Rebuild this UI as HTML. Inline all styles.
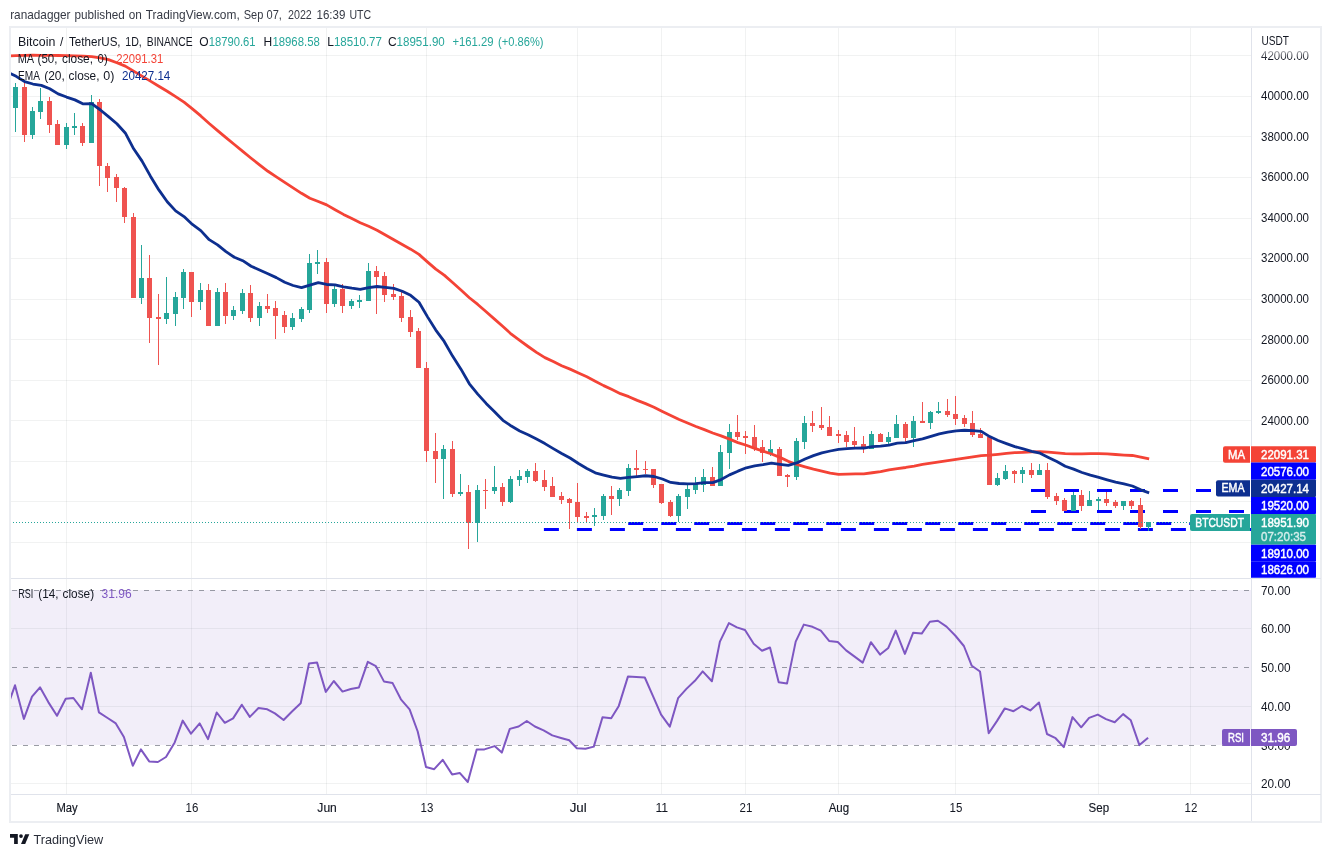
<!DOCTYPE html>
<html><head><meta charset="utf-8"><title>BTCUSDT chart</title>
<style>html,body{margin:0;padding:0;background:#fff;width:1331px;height:857px;overflow:hidden}svg{display:block;will-change:transform}</style>
</head><body>
<svg width="1331" height="857" viewBox="0 0 1331 857" font-family='"Liberation Sans", sans-serif'>
<rect x="0" y="0" width="1331" height="857" fill="#ffffff"/>
<text x="10.2" y="18.9" font-size="13" fill="#363a45" text-anchor="start" font-weight="normal" textLength="60.3" lengthAdjust="spacingAndGlyphs">ranadagger</text>
<text x="74.5" y="18.9" font-size="13" fill="#363a45" text-anchor="start" font-weight="normal" textLength="50.2" lengthAdjust="spacingAndGlyphs">published</text>
<text x="128.7" y="18.9" font-size="13" fill="#363a45" text-anchor="start" font-weight="normal" textLength="13.1" lengthAdjust="spacingAndGlyphs">on</text>
<text x="145.8" y="18.9" font-size="13" fill="#363a45" text-anchor="start" font-weight="normal" textLength="93.9" lengthAdjust="spacingAndGlyphs">TradingView.com,</text>
<text x="243.7" y="18.9" font-size="13" fill="#363a45" text-anchor="start" font-weight="normal" textLength="19.6" lengthAdjust="spacingAndGlyphs">Sep</text>
<text x="266.6" y="18.9" font-size="13" fill="#363a45" text-anchor="start" font-weight="normal" textLength="15.3" lengthAdjust="spacingAndGlyphs">07,</text>
<text x="288" y="18.9" font-size="13" fill="#363a45" text-anchor="start" font-weight="normal" textLength="23.8" lengthAdjust="spacingAndGlyphs">2022</text>
<text x="316.5" y="18.9" font-size="13" fill="#363a45" text-anchor="start" font-weight="normal" textLength="28.9" lengthAdjust="spacingAndGlyphs">16:39</text>
<text x="349.4" y="18.9" font-size="13" fill="#363a45" text-anchor="start" font-weight="normal" textLength="21.7" lengthAdjust="spacingAndGlyphs">UTC</text>
<rect x="10" y="27" width="1311" height="795" fill="none" stroke="#eceef2" stroke-width="2"/>
<line x1="66.5" y1="28" x2="66.5" y2="794" stroke="#0f2626" stroke-opacity="0.06" stroke-width="1"/>
<line x1="191.5" y1="28" x2="191.5" y2="794" stroke="#0f2626" stroke-opacity="0.06" stroke-width="1"/>
<line x1="326.5" y1="28" x2="326.5" y2="794" stroke="#0f2626" stroke-opacity="0.06" stroke-width="1"/>
<line x1="426.5" y1="28" x2="426.5" y2="794" stroke="#0f2626" stroke-opacity="0.06" stroke-width="1"/>
<line x1="577.5" y1="28" x2="577.5" y2="794" stroke="#0f2626" stroke-opacity="0.06" stroke-width="1"/>
<line x1="661.5" y1="28" x2="661.5" y2="794" stroke="#0f2626" stroke-opacity="0.06" stroke-width="1"/>
<line x1="745.5" y1="28" x2="745.5" y2="794" stroke="#0f2626" stroke-opacity="0.06" stroke-width="1"/>
<line x1="838.5" y1="28" x2="838.5" y2="794" stroke="#0f2626" stroke-opacity="0.06" stroke-width="1"/>
<line x1="955.5" y1="28" x2="955.5" y2="794" stroke="#0f2626" stroke-opacity="0.06" stroke-width="1"/>
<line x1="1098.5" y1="28" x2="1098.5" y2="794" stroke="#0f2626" stroke-opacity="0.06" stroke-width="1"/>
<line x1="1190.5" y1="28" x2="1190.5" y2="794" stroke="#0f2626" stroke-opacity="0.06" stroke-width="1"/>
<line x1="11" y1="55.5" x2="1251" y2="55.5" stroke="#0f2626" stroke-opacity="0.06" stroke-width="1"/>
<line x1="11" y1="96.5" x2="1251" y2="96.5" stroke="#0f2626" stroke-opacity="0.06" stroke-width="1"/>
<line x1="11" y1="136.5" x2="1251" y2="136.5" stroke="#0f2626" stroke-opacity="0.06" stroke-width="1"/>
<line x1="11" y1="177.5" x2="1251" y2="177.5" stroke="#0f2626" stroke-opacity="0.06" stroke-width="1"/>
<line x1="11" y1="218.5" x2="1251" y2="218.5" stroke="#0f2626" stroke-opacity="0.06" stroke-width="1"/>
<line x1="11" y1="258.5" x2="1251" y2="258.5" stroke="#0f2626" stroke-opacity="0.06" stroke-width="1"/>
<line x1="11" y1="299.5" x2="1251" y2="299.5" stroke="#0f2626" stroke-opacity="0.06" stroke-width="1"/>
<line x1="11" y1="339.5" x2="1251" y2="339.5" stroke="#0f2626" stroke-opacity="0.06" stroke-width="1"/>
<line x1="11" y1="380.5" x2="1251" y2="380.5" stroke="#0f2626" stroke-opacity="0.06" stroke-width="1"/>
<line x1="11" y1="420.5" x2="1251" y2="420.5" stroke="#0f2626" stroke-opacity="0.06" stroke-width="1"/>
<line x1="11" y1="461.5" x2="1251" y2="461.5" stroke="#0f2626" stroke-opacity="0.06" stroke-width="1"/>
<line x1="11" y1="501.5" x2="1251" y2="501.5" stroke="#0f2626" stroke-opacity="0.06" stroke-width="1"/>
<line x1="11" y1="542.5" x2="1251" y2="542.5" stroke="#0f2626" stroke-opacity="0.06" stroke-width="1"/>
<rect x="11" y="590" width="1240" height="155" fill="#7e57c2" fill-opacity="0.1"/>
<line x1="11" y1="628.5" x2="1251" y2="628.5" stroke="#0f2626" stroke-opacity="0.06" stroke-width="1"/>
<line x1="11" y1="706.5" x2="1251" y2="706.5" stroke="#0f2626" stroke-opacity="0.06" stroke-width="1"/>
<line x1="11" y1="783.5" x2="1251" y2="783.5" stroke="#0f2626" stroke-opacity="0.06" stroke-width="1"/>
<line x1="12" y1="590.5" x2="1251" y2="590.5" stroke="#787b86" stroke-width="1" stroke-dasharray="5 6" stroke-opacity="0.75"/>
<line x1="12" y1="667.5" x2="1251" y2="667.5" stroke="#787b86" stroke-width="1" stroke-dasharray="5 6" stroke-opacity="0.75"/>
<line x1="12" y1="745.5" x2="1251" y2="745.5" stroke="#787b86" stroke-width="1" stroke-dasharray="5 6" stroke-opacity="0.75"/>
<rect x="11" y="578" width="1310" height="1" fill="#e0e3eb"/>
<rect x="11" y="794" width="1310" height="1" fill="#e0e3eb"/>
<rect x="1251" y="28" width="1" height="793" fill="#e0e3eb"/>
<line x1="1031" y1="490.5" x2="1251" y2="490.5" stroke="#0000ff" stroke-width="3" stroke-dasharray="15 18"/>
<line x1="1031" y1="511.5" x2="1251" y2="511.5" stroke="#0000ff" stroke-width="3" stroke-dasharray="15 18"/>
<line x1="628.2" y1="523.5" x2="1251" y2="523.5" stroke="#0000ff" stroke-width="3" stroke-dasharray="15 18"/>
<line x1="543.9" y1="529.5" x2="1251" y2="529.5" stroke="#0000ff" stroke-width="3" stroke-dasharray="15 18"/>
<g shape-rendering="crispEdges">
<rect x="15" y="83.3" width="1" height="48.6" fill="#26a69a"/>
<rect x="13" y="87" width="5" height="20.6" fill="#26a69a"/>
<rect x="24" y="80.6" width="1" height="61" fill="#ef5350"/>
<rect x="22" y="87" width="5" height="47.8" fill="#ef5350"/>
<rect x="32" y="106.9" width="1" height="31.8" fill="#26a69a"/>
<rect x="30" y="111" width="5" height="23.8" fill="#26a69a"/>
<rect x="40" y="87.9" width="1" height="30.9" fill="#26a69a"/>
<rect x="38" y="101.1" width="5" height="10.6" fill="#26a69a"/>
<rect x="49" y="97" width="1" height="35.7" fill="#ef5350"/>
<rect x="47" y="101.1" width="5" height="23.5" fill="#ef5350"/>
<rect x="57" y="120" width="1" height="24.8" fill="#ef5350"/>
<rect x="55" y="123.9" width="5" height="20.9" fill="#ef5350"/>
<rect x="66" y="123.1" width="1" height="25.8" fill="#26a69a"/>
<rect x="64" y="126.9" width="5" height="17.9" fill="#26a69a"/>
<rect x="74" y="113.2" width="1" height="21.7" fill="#26a69a"/>
<rect x="72" y="126.1" width="5" height="1.9" fill="#26a69a"/>
<rect x="82" y="123.1" width="1" height="22.7" fill="#ef5350"/>
<rect x="80" y="126.1" width="5" height="16.7" fill="#ef5350"/>
<rect x="91" y="95" width="1" height="47.8" fill="#26a69a"/>
<rect x="89" y="102.2" width="5" height="40.6" fill="#26a69a"/>
<rect x="99" y="98.8" width="1" height="87.2" fill="#ef5350"/>
<rect x="97" y="102.2" width="5" height="64.2" fill="#ef5350"/>
<rect x="107" y="162.9" width="1" height="29" fill="#ef5350"/>
<rect x="105" y="166.1" width="5" height="11.5" fill="#ef5350"/>
<rect x="116" y="174.2" width="1" height="27.5" fill="#ef5350"/>
<rect x="114" y="177.2" width="5" height="11.2" fill="#ef5350"/>
<rect x="124" y="187" width="1" height="35.5" fill="#ef5350"/>
<rect x="122" y="188.2" width="5" height="29.2" fill="#ef5350"/>
<rect x="133" y="212.7" width="1" height="85" fill="#ef5350"/>
<rect x="131" y="217.1" width="5" height="80.6" fill="#ef5350"/>
<rect x="141" y="245" width="1" height="58.8" fill="#26a69a"/>
<rect x="139" y="278.1" width="5" height="19.6" fill="#26a69a"/>
<rect x="149" y="255.1" width="1" height="87.5" fill="#ef5350"/>
<rect x="147" y="278.1" width="5" height="39.5" fill="#ef5350"/>
<rect x="158" y="294" width="1" height="70.6" fill="#ef5350"/>
<rect x="156" y="316.8" width="5" height="2" fill="#ef5350"/>
<rect x="166" y="277.1" width="1" height="46.6" fill="#26a69a"/>
<rect x="164" y="313.1" width="5" height="5.7" fill="#26a69a"/>
<rect x="175" y="292.3" width="1" height="33.6" fill="#26a69a"/>
<rect x="173" y="297.2" width="5" height="16.7" fill="#26a69a"/>
<rect x="183" y="269" width="1" height="39.7" fill="#26a69a"/>
<rect x="181" y="272.2" width="5" height="25.5" fill="#26a69a"/>
<rect x="191" y="272.2" width="1" height="44.6" fill="#ef5350"/>
<rect x="189" y="272.2" width="5" height="29.4" fill="#ef5350"/>
<rect x="200" y="283" width="1" height="26.5" fill="#26a69a"/>
<rect x="198" y="289.9" width="5" height="11.7" fill="#26a69a"/>
<rect x="208" y="284.2" width="1" height="41.7" fill="#ef5350"/>
<rect x="206" y="289.9" width="5" height="36" fill="#ef5350"/>
<rect x="217" y="287.9" width="1" height="38" fill="#26a69a"/>
<rect x="215" y="292.3" width="5" height="33.6" fill="#26a69a"/>
<rect x="225" y="282.9" width="1" height="41" fill="#ef5350"/>
<rect x="223" y="292.1" width="5" height="23.6" fill="#ef5350"/>
<rect x="233" y="306.2" width="1" height="13.4" fill="#26a69a"/>
<rect x="231" y="310.1" width="5" height="5.6" fill="#26a69a"/>
<rect x="242" y="289" width="1" height="24.8" fill="#26a69a"/>
<rect x="240" y="293.1" width="5" height="17.6" fill="#26a69a"/>
<rect x="250" y="285.1" width="1" height="36.6" fill="#ef5350"/>
<rect x="248" y="293.1" width="5" height="24.7" fill="#ef5350"/>
<rect x="259" y="302.1" width="1" height="23.7" fill="#26a69a"/>
<rect x="257" y="306.2" width="5" height="11.6" fill="#26a69a"/>
<rect x="267" y="293.9" width="1" height="19" fill="#ef5350"/>
<rect x="265" y="306.2" width="5" height="2.7" fill="#ef5350"/>
<rect x="275" y="301" width="1" height="37.6" fill="#ef5350"/>
<rect x="273" y="308" width="5" height="7.7" fill="#ef5350"/>
<rect x="284" y="311.1" width="1" height="21.8" fill="#ef5350"/>
<rect x="282" y="315" width="5" height="11.7" fill="#ef5350"/>
<rect x="292" y="313.1" width="1" height="16.6" fill="#26a69a"/>
<rect x="290" y="318" width="5" height="8.7" fill="#26a69a"/>
<rect x="301" y="307" width="1" height="14.7" fill="#26a69a"/>
<rect x="299" y="309" width="5" height="9.7" fill="#26a69a"/>
<rect x="309" y="254.1" width="1" height="58.8" fill="#26a69a"/>
<rect x="307" y="263" width="5" height="46.8" fill="#26a69a"/>
<rect x="317" y="250" width="1" height="23.7" fill="#26a69a"/>
<rect x="315" y="262.1" width="5" height="1.5" fill="#26a69a"/>
<rect x="326" y="258.1" width="1" height="54.8" fill="#ef5350"/>
<rect x="324" y="262.1" width="5" height="41.6" fill="#ef5350"/>
<rect x="334" y="285.3" width="1" height="21.5" fill="#26a69a"/>
<rect x="332" y="289" width="5" height="14.7" fill="#26a69a"/>
<rect x="342" y="284.1" width="1" height="28.6" fill="#ef5350"/>
<rect x="340" y="289" width="5" height="16.8" fill="#ef5350"/>
<rect x="351" y="299.1" width="1" height="9.8" fill="#26a69a"/>
<rect x="349" y="301" width="5" height="4.9" fill="#26a69a"/>
<rect x="359" y="295.1" width="1" height="12.8" fill="#26a69a"/>
<rect x="357" y="300.3" width="5" height="1.5" fill="#26a69a"/>
<rect x="368" y="263.1" width="1" height="37.6" fill="#26a69a"/>
<rect x="366" y="271.2" width="5" height="29.5" fill="#26a69a"/>
<rect x="376" y="266" width="1" height="47.8" fill="#ef5350"/>
<rect x="374" y="271.2" width="5" height="5.6" fill="#ef5350"/>
<rect x="384" y="272.1" width="1" height="29.6" fill="#ef5350"/>
<rect x="382" y="276.2" width="5" height="18.5" fill="#ef5350"/>
<rect x="393" y="284.1" width="1" height="15.7" fill="#ef5350"/>
<rect x="391" y="294.2" width="5" height="2.6" fill="#ef5350"/>
<rect x="401" y="291.2" width="1" height="30.6" fill="#ef5350"/>
<rect x="399" y="296.1" width="5" height="21.5" fill="#ef5350"/>
<rect x="410" y="310.1" width="1" height="26.6" fill="#ef5350"/>
<rect x="408" y="317.1" width="5" height="14.8" fill="#ef5350"/>
<rect x="418" y="328" width="1" height="40.4" fill="#ef5350"/>
<rect x="416" y="331.1" width="5" height="37.3" fill="#ef5350"/>
<rect x="426" y="362" width="1" height="99.9" fill="#ef5350"/>
<rect x="424" y="368.3" width="5" height="83.1" fill="#ef5350"/>
<rect x="435" y="433.2" width="1" height="50.2" fill="#ef5350"/>
<rect x="433" y="450.7" width="5" height="8.2" fill="#ef5350"/>
<rect x="443" y="444.8" width="1" height="53.7" fill="#26a69a"/>
<rect x="441" y="449" width="5" height="9.9" fill="#26a69a"/>
<rect x="452" y="440.9" width="1" height="55.8" fill="#ef5350"/>
<rect x="450" y="449" width="5" height="44.9" fill="#ef5350"/>
<rect x="460" y="474" width="1" height="21.5" fill="#26a69a"/>
<rect x="458" y="492" width="5" height="1.9" fill="#26a69a"/>
<rect x="468" y="485" width="1" height="63.7" fill="#ef5350"/>
<rect x="466" y="492" width="5" height="30.6" fill="#ef5350"/>
<rect x="477" y="485" width="1" height="57.4" fill="#26a69a"/>
<rect x="475" y="489.9" width="5" height="32.7" fill="#26a69a"/>
<rect x="485" y="479.2" width="1" height="29.4" fill="#ef5350"/>
<rect x="483" y="489.9" width="5" height="1.5" fill="#ef5350"/>
<rect x="494" y="466.3" width="1" height="27.6" fill="#26a69a"/>
<rect x="492" y="487.3" width="5" height="3.5" fill="#26a69a"/>
<rect x="502" y="483" width="1" height="22.7" fill="#ef5350"/>
<rect x="500" y="487" width="5" height="14.7" fill="#ef5350"/>
<rect x="510" y="476" width="1" height="26.8" fill="#26a69a"/>
<rect x="508" y="478.9" width="5" height="22.8" fill="#26a69a"/>
<rect x="519" y="470" width="1" height="16" fill="#26a69a"/>
<rect x="517" y="476.2" width="5" height="3.5" fill="#26a69a"/>
<rect x="527" y="468.9" width="1" height="13.9" fill="#26a69a"/>
<rect x="525" y="471" width="5" height="5.7" fill="#26a69a"/>
<rect x="535" y="463.1" width="1" height="18.9" fill="#ef5350"/>
<rect x="533" y="471" width="5" height="9.9" fill="#ef5350"/>
<rect x="544" y="470" width="1" height="21" fill="#ef5350"/>
<rect x="542" y="480" width="5" height="6.8" fill="#ef5350"/>
<rect x="552" y="477" width="1" height="19.8" fill="#ef5350"/>
<rect x="550" y="486" width="5" height="10.8" fill="#ef5350"/>
<rect x="561" y="492" width="1" height="12" fill="#ef5350"/>
<rect x="559" y="496.1" width="5" height="3.7" fill="#ef5350"/>
<rect x="569" y="498.2" width="1" height="30.8" fill="#ef5350"/>
<rect x="567" y="498.9" width="5" height="3.9" fill="#ef5350"/>
<rect x="577" y="483" width="1" height="39.7" fill="#ef5350"/>
<rect x="575" y="502" width="5" height="14.9" fill="#ef5350"/>
<rect x="586" y="511.9" width="1" height="10.8" fill="#ef5350"/>
<rect x="584" y="516.1" width="5" height="1.5" fill="#ef5350"/>
<rect x="594" y="508" width="1" height="17.9" fill="#26a69a"/>
<rect x="592" y="515.2" width="5" height="1.7" fill="#26a69a"/>
<rect x="603" y="494" width="1" height="25.9" fill="#26a69a"/>
<rect x="601" y="496.1" width="5" height="19.6" fill="#26a69a"/>
<rect x="611" y="486.2" width="1" height="28.6" fill="#ef5350"/>
<rect x="609" y="496.1" width="5" height="2.5" fill="#ef5350"/>
<rect x="619" y="488.1" width="1" height="17.9" fill="#26a69a"/>
<rect x="617" y="490.2" width="5" height="8.6" fill="#26a69a"/>
<rect x="628" y="464" width="1" height="31.9" fill="#26a69a"/>
<rect x="626" y="468.1" width="5" height="22.6" fill="#26a69a"/>
<rect x="636" y="450" width="1" height="26.8" fill="#ef5350"/>
<rect x="634" y="468.1" width="5" height="1.5" fill="#ef5350"/>
<rect x="645" y="461" width="1" height="12.6" fill="#ef5350"/>
<rect x="643" y="468.9" width="5" height="1.5" fill="#ef5350"/>
<rect x="653" y="469.2" width="1" height="18.6" fill="#ef5350"/>
<rect x="651" y="469.2" width="5" height="15.4" fill="#ef5350"/>
<rect x="661" y="484.1" width="1" height="19.4" fill="#ef5350"/>
<rect x="659" y="484.1" width="5" height="18.7" fill="#ef5350"/>
<rect x="670" y="500.2" width="1" height="16.5" fill="#ef5350"/>
<rect x="668" y="502" width="5" height="13.6" fill="#ef5350"/>
<rect x="678" y="494.1" width="1" height="28.3" fill="#26a69a"/>
<rect x="676" y="496.2" width="5" height="19.4" fill="#26a69a"/>
<rect x="687" y="483.1" width="1" height="25.7" fill="#26a69a"/>
<rect x="685" y="489" width="5" height="7.7" fill="#26a69a"/>
<rect x="695" y="477" width="1" height="16.8" fill="#26a69a"/>
<rect x="693" y="484.1" width="5" height="5.6" fill="#26a69a"/>
<rect x="703" y="468.9" width="1" height="22.9" fill="#26a69a"/>
<rect x="701" y="477.1" width="5" height="7.5" fill="#26a69a"/>
<rect x="712" y="467.1" width="1" height="18.6" fill="#ef5350"/>
<rect x="710" y="477.1" width="5" height="8.6" fill="#ef5350"/>
<rect x="720" y="444.9" width="1" height="40.8" fill="#26a69a"/>
<rect x="718" y="452.1" width="5" height="33.6" fill="#26a69a"/>
<rect x="729" y="424.2" width="1" height="44.6" fill="#26a69a"/>
<rect x="727" y="432.2" width="5" height="20.3" fill="#26a69a"/>
<rect x="737" y="415.2" width="1" height="24.7" fill="#ef5350"/>
<rect x="735" y="432.2" width="5" height="4.6" fill="#ef5350"/>
<rect x="745" y="431.2" width="1" height="22.6" fill="#ef5350"/>
<rect x="743" y="436.2" width="5" height="1.5" fill="#ef5350"/>
<rect x="754" y="425.2" width="1" height="25.7" fill="#ef5350"/>
<rect x="752" y="437.3" width="5" height="10.5" fill="#ef5350"/>
<rect x="762" y="440.1" width="1" height="21.5" fill="#ef5350"/>
<rect x="760" y="447.3" width="5" height="5.2" fill="#ef5350"/>
<rect x="770" y="440.1" width="1" height="15.6" fill="#26a69a"/>
<rect x="768" y="449.2" width="5" height="3.6" fill="#26a69a"/>
<rect x="779" y="447.3" width="1" height="28.3" fill="#ef5350"/>
<rect x="777" y="449.2" width="5" height="26.4" fill="#ef5350"/>
<rect x="787" y="474" width="1" height="12.6" fill="#ef5350"/>
<rect x="785" y="475.1" width="5" height="1.6" fill="#ef5350"/>
<rect x="796" y="438.1" width="1" height="41.7" fill="#26a69a"/>
<rect x="794" y="441.2" width="5" height="35.5" fill="#26a69a"/>
<rect x="804" y="416" width="1" height="32.8" fill="#26a69a"/>
<rect x="802" y="423.1" width="5" height="18.7" fill="#26a69a"/>
<rect x="812" y="410.8" width="1" height="21" fill="#ef5350"/>
<rect x="810" y="423.1" width="5" height="2.6" fill="#ef5350"/>
<rect x="821" y="407" width="1" height="22.9" fill="#ef5350"/>
<rect x="819" y="425.2" width="5" height="2.6" fill="#ef5350"/>
<rect x="829" y="416" width="1" height="19.7" fill="#ef5350"/>
<rect x="827" y="427.1" width="5" height="8.6" fill="#ef5350"/>
<rect x="838" y="430.1" width="1" height="12.7" fill="#ef5350"/>
<rect x="836" y="434.1" width="5" height="1.6" fill="#ef5350"/>
<rect x="846" y="431" width="1" height="15.8" fill="#ef5350"/>
<rect x="844" y="435.2" width="5" height="6.5" fill="#ef5350"/>
<rect x="854" y="427" width="1" height="19.8" fill="#ef5350"/>
<rect x="852" y="441.2" width="5" height="3.5" fill="#ef5350"/>
<rect x="863" y="436.1" width="1" height="16.6" fill="#ef5350"/>
<rect x="861" y="444.1" width="5" height="4.6" fill="#ef5350"/>
<rect x="871" y="431" width="1" height="17.7" fill="#26a69a"/>
<rect x="869" y="434" width="5" height="14.7" fill="#26a69a"/>
<rect x="880" y="433.1" width="1" height="8.6" fill="#ef5350"/>
<rect x="878" y="434" width="5" height="7.7" fill="#ef5350"/>
<rect x="888" y="432" width="1" height="12" fill="#26a69a"/>
<rect x="886" y="437.2" width="5" height="4.5" fill="#26a69a"/>
<rect x="896" y="414.9" width="1" height="22.6" fill="#26a69a"/>
<rect x="894" y="424.1" width="5" height="13.4" fill="#26a69a"/>
<rect x="905" y="422" width="1" height="20.8" fill="#ef5350"/>
<rect x="903" y="424.1" width="5" height="13.4" fill="#ef5350"/>
<rect x="913" y="416" width="1" height="31" fill="#26a69a"/>
<rect x="911" y="421" width="5" height="16.5" fill="#26a69a"/>
<rect x="922" y="401.8" width="1" height="20.8" fill="#ef5350"/>
<rect x="920" y="421" width="5" height="1.6" fill="#ef5350"/>
<rect x="930" y="411" width="1" height="17.9" fill="#26a69a"/>
<rect x="928" y="412.1" width="5" height="10.5" fill="#26a69a"/>
<rect x="938" y="401.8" width="1" height="12.1" fill="#26a69a"/>
<rect x="936" y="411.3" width="5" height="1.5" fill="#26a69a"/>
<rect x="947" y="398.9" width="1" height="17.8" fill="#ef5350"/>
<rect x="945" y="411" width="5" height="3.6" fill="#ef5350"/>
<rect x="955" y="395.7" width="1" height="29.2" fill="#ef5350"/>
<rect x="953" y="414.2" width="5" height="4.6" fill="#ef5350"/>
<rect x="964" y="415" width="1" height="11.8" fill="#ef5350"/>
<rect x="962" y="418.1" width="5" height="5.6" fill="#ef5350"/>
<rect x="972" y="411.1" width="1" height="25.4" fill="#ef5350"/>
<rect x="970" y="423.2" width="5" height="11.5" fill="#ef5350"/>
<rect x="980" y="428.1" width="1" height="9.7" fill="#ef5350"/>
<rect x="978" y="434.2" width="5" height="3.6" fill="#ef5350"/>
<rect x="989" y="436.3" width="1" height="48.5" fill="#ef5350"/>
<rect x="987" y="437" width="5" height="47.8" fill="#ef5350"/>
<rect x="997" y="473.1" width="1" height="12.8" fill="#26a69a"/>
<rect x="995" y="478.2" width="5" height="6.6" fill="#26a69a"/>
<rect x="1005" y="465.1" width="1" height="14.8" fill="#26a69a"/>
<rect x="1003" y="471.2" width="5" height="7.6" fill="#26a69a"/>
<rect x="1014" y="470.1" width="1" height="12.8" fill="#ef5350"/>
<rect x="1012" y="471.2" width="5" height="2.6" fill="#ef5350"/>
<rect x="1022" y="467" width="1" height="15.9" fill="#26a69a"/>
<rect x="1020" y="470.3" width="5" height="3.5" fill="#26a69a"/>
<rect x="1031" y="463" width="1" height="14.7" fill="#ef5350"/>
<rect x="1029" y="470.3" width="5" height="4.3" fill="#ef5350"/>
<rect x="1039" y="464" width="1" height="10.6" fill="#26a69a"/>
<rect x="1037" y="470.3" width="5" height="4.3" fill="#26a69a"/>
<rect x="1047" y="463.2" width="1" height="35.4" fill="#ef5350"/>
<rect x="1045" y="470.2" width="5" height="26.5" fill="#ef5350"/>
<rect x="1056" y="493" width="1" height="11.9" fill="#ef5350"/>
<rect x="1054" y="496.2" width="5" height="4.7" fill="#ef5350"/>
<rect x="1064" y="498" width="1" height="12.7" fill="#ef5350"/>
<rect x="1062" y="500.2" width="5" height="10.5" fill="#ef5350"/>
<rect x="1073" y="492" width="1" height="18.7" fill="#26a69a"/>
<rect x="1071" y="495.2" width="5" height="15.5" fill="#26a69a"/>
<rect x="1081" y="490" width="1" height="20.7" fill="#ef5350"/>
<rect x="1079" y="495.2" width="5" height="10.5" fill="#ef5350"/>
<rect x="1089" y="491" width="1" height="14.7" fill="#26a69a"/>
<rect x="1087" y="500.4" width="5" height="5.3" fill="#26a69a"/>
<rect x="1098" y="497" width="1" height="12.6" fill="#26a69a"/>
<rect x="1096" y="499.4" width="5" height="1.5" fill="#26a69a"/>
<rect x="1106" y="491.8" width="1" height="13.9" fill="#ef5350"/>
<rect x="1104" y="499.4" width="5" height="3.4" fill="#ef5350"/>
<rect x="1115" y="500.2" width="1" height="7.6" fill="#ef5350"/>
<rect x="1113" y="502.3" width="5" height="3.4" fill="#ef5350"/>
<rect x="1123" y="501.2" width="1" height="8.6" fill="#26a69a"/>
<rect x="1121" y="501.2" width="5" height="4.5" fill="#26a69a"/>
<rect x="1131" y="500.2" width="1" height="8.6" fill="#ef5350"/>
<rect x="1129" y="501.2" width="5" height="4.5" fill="#ef5350"/>
<rect x="1140" y="498.1" width="1" height="30.7" fill="#ef5350"/>
<rect x="1138" y="505.2" width="5" height="21.5" fill="#ef5350"/>
<rect x="1148" y="522.4" width="1" height="8.8" fill="#26a69a"/>
<rect x="1146" y="522.4" width="5" height="4.3" fill="#26a69a"/>
</g>
<polyline points="10.3,55.9 16.16,55.7 24.56,55.42 32.95,55.22 41.34,55.31 49.73,55.41 58.13,55.51 66.52,55.61 74.91,55.86 83.3,56.11 91.7,56.61 100.09,57.83 108.48,59.63 116.87,62.79 125.27,66.1 133.66,71.12 142.05,76.14 150.44,81.17 158.84,86.21 167.23,91.25 175.62,96.57 184.01,102.15 192.41,108.89 200.8,115.94 209.19,123.48 217.58,130.59 225.98,137.58 234.37,144.54 242.76,151.39 251.15,158.23 259.55,164.82 267.94,171.29 276.33,176.86 284.72,182.43 293.11,187.9 301.51,193.31 309.9,198.24 318.29,201.5 326.68,204.89 335.08,209.68 343.47,214.39 351.86,218.61 360.25,222.71 368.65,226.29 377.04,230.16 385.43,234.95 393.82,239.72 402.22,244.43 410.61,249.18 419,254.41 427.39,261.84 435.79,269.08 444.18,275.11 452.57,282.5 460.96,290.04 469.36,297.75 477.75,304.45 486.14,311.78 494.53,319.07 502.93,326.43 511.32,334.16 519.71,340.47 528.1,346.5 536.5,352.34 544.89,357.63 553.28,361.47 561.67,365.67 570.07,369.15 578.46,372.95 586.85,376.85 595.24,381.15 603.64,385.62 612.03,389.57 620.42,393.65 628.81,396.66 637.21,400.39 645.6,403.59 653.99,407.2 662.38,411.45 670.77,415.54 679.17,419.47 687.56,423.08 695.95,426.52 704.34,429.66 712.74,433.02 721.13,435.84 729.52,439.17 737.91,442.61 746.31,445.25 754.7,448.36 763.09,451.13 771.48,453.97 779.88,457.38 788.27,461.34 796.66,464.47 805.05,466.82 813.45,469.09 821.84,471.11 830.23,473.13 838.62,474.39 847.02,474.16 855.41,473.83 863.8,473.87 872.19,472.75 880.59,471.71 888.98,469.93 897.37,468.61 905.76,467.49 914.16,466.13 922.55,464.45 930.94,463.09 939.33,461.79 947.73,460.64 956.12,459.41 964.51,458.1 972.9,456.8 981.3,455.53 989.69,455.12 998.08,454.32 1006.47,453.46 1014.86,452.68 1023.26,452.28 1031.65,451.93 1040.04,451.6 1048.43,452.21 1056.83,452.86 1065.22,453.69 1073.61,453.88 1082,453.89 1090.4,453.54 1098.79,453.6 1107.18,453.94 1115.57,454.48 1123.97,455.03 1132.36,455.48 1140.75,457.05 1149.14,458.93" fill="none" stroke="#f44336" stroke-width="2.8" stroke-linejoin="round" stroke-linecap="butt"/>
<polyline points="10.3,73.4 16.16,76.34 24.56,81.56 32.95,84.01 41.34,85.37 49.73,88.77 58.13,93.88 66.52,97.05 74.91,99.88 83.3,103.9 91.7,103.72 100.09,109.74 108.48,116.57 116.87,123.74 125.27,132.94 133.66,148.82 142.05,161.11 150.44,176.19 158.84,189.9 167.23,201.76 175.62,210.86 184.01,216.58 192.41,224.44 200.8,230.59 209.19,239.68 217.58,244.84 225.98,251.6 234.37,257.28 242.76,260.68 251.15,266.23 259.55,269.98 267.94,273.66 276.33,277.62 284.72,282.21 293.11,285.49 301.51,287.65 309.9,285.08 318.29,282.65 326.68,284.48 335.08,284.83 343.47,286.83 351.86,288.17 360.25,289.31 368.65,287.62 377.04,286.51 385.43,287.4 393.82,288.42 402.22,291.27 410.61,295.31 419,302.28 427.39,316.62 435.79,330.11 444.18,341.43 452.57,356.1 460.96,369.14 469.36,383.8 477.75,394.12 486.14,403.39 494.53,411.66 502.93,420.32 511.32,426.07 519.71,430.93 528.1,434.68 536.5,439.04 544.89,443.6 553.28,448.62 561.67,453.42 570.07,457.98 578.46,463.46 586.85,468.43 595.24,472.84 603.64,475.03 612.03,477.14 620.42,478.38 628.81,477.39 637.21,476.54 645.6,475.75 653.99,476.5 662.38,478.98 670.77,482.43 679.17,483.51 687.56,483.83 695.95,483.53 704.34,482.53 712.74,482.63 721.13,479.57 729.52,474.9 737.91,471.17 746.31,467.82 754.7,465.9 763.09,464.65 771.48,463.14 779.88,464.31 788.27,465.39 796.66,462.95 805.05,459.02 813.45,455.65 821.84,452.8 830.23,451 838.62,449.39 847.02,448.55 855.41,448.04 863.8,448.01 872.19,446.62 880.59,446.12 888.98,445.22 897.37,443.19 905.76,442.66 914.16,440.53 922.55,438.79 930.94,436.31 939.33,433.94 947.73,432.16 956.12,430.89 964.51,430.24 972.9,430.71 981.3,431.43 989.69,436.57 998.08,440.54 1006.47,443.61 1014.86,446.59 1023.26,448.88 1031.65,451.36 1040.04,453.23 1048.43,457.4 1056.83,461.55 1065.22,466.27 1073.61,469.12 1082,472.51 1090.4,475.13 1098.79,477.4 1107.18,479.79 1115.57,482.18 1123.97,483.95 1132.36,485.99 1140.75,489.82 1149.14,492.86" fill="none" stroke="#0d2f8f" stroke-width="2.8" stroke-linejoin="round" stroke-linecap="butt"/>
<polyline points="10.2,698.8 15,685.3 23.9,718.9 32,696.6 40,687.3 48.3,702.1 57,715.8 65.7,698.8 73.4,698 82,709.3 90.8,672.7 98.9,712.3 107.6,718 115.8,723.4 123.9,737 132.8,765.7 140.9,749.4 149.2,761.4 157.9,762 166,757 174.7,742.4 182.7,720.6 191,733.7 199.7,723.4 208,739.1 216.7,712.5 224.8,722.8 233.1,718.4 241.8,704.7 249.8,716.9 258.5,708 267.3,709.3 274.9,713.4 283.6,720 292,711.5 300.7,703.2 309,663.5 317,662.4 325.8,691.9 333.8,681 342.5,691.6 350.8,689 358.9,687.5 367.8,661.8 375.9,666.1 383.9,681.4 392.6,683.1 400.9,699.3 409.6,709.3 417.7,731.5 426,767 434.2,769.2 442.7,759.8 452.1,774.4 459.7,772.9 467.8,782 476.7,749.4 484.4,749.4 494.6,746.1 501.8,752.6 509.8,728.9 518.6,726.5 526.8,721 534.9,726.5 543.6,730.4 552.3,735.4 561,738 569.2,740.3 576.8,748.3 585.5,748.8 593.8,746.6 602.5,717.2 611.2,718.3 618.8,705.9 628,676.4 636.3,676.9 644.8,677.5 653,696.1 661.1,714.6 669.8,726.6 678.1,698.2 686.4,688.9 694.9,680.8 702.7,671.4 711.9,681.2 719.9,641.6 728.9,623.1 736.9,627.4 745,630 753.7,643.8 762,650.7 770,647.5 778.7,682.3 787,683.6 795.7,641.6 803.8,624.6 812.5,626.8 820.8,630.7 829.1,640.9 837.8,642 846.1,650.4 854.3,656.4 862.7,662.6 870.9,642.2 880.1,654.6 888.3,647.9 895.7,630.6 904.9,653.9 913.1,632.8 921.7,633.6 929.9,621.7 937.9,620.7 946.5,626.6 955.2,635.5 963.9,646 971.8,665.8 980,671.5 988.7,733.2 996.9,721.1 1004.8,708.4 1013.5,711.2 1021.7,706 1030.3,710.4 1039,702.5 1047,734 1055.6,738.2 1063.8,747.1 1072.5,717.1 1081.2,727.3 1089.1,717.9 1097.8,714.6 1106,719.1 1114.7,722.3 1123.1,714.1 1130.8,720.3 1139.4,745.1 1148.1,737.7" fill="none" stroke="#7e57c2" stroke-width="2" stroke-linejoin="round" stroke-linecap="butt"/>
<line x1="11" y1="522.5" x2="1251" y2="522.5" stroke="#26a69a" stroke-width="1" stroke-dasharray="1 2" stroke-dashoffset="1"/>
<rect x="0" y="28" width="10" height="800" fill="#ffffff"/>
<rect x="9" y="26" width="2" height="797" fill="#eceef2"/>
<text x="18.1" y="45.6" font-size="12" fill="#131722" text-anchor="start" font-weight="normal" textLength="37.2" lengthAdjust="spacingAndGlyphs">Bitcoin</text>
<text x="61.55" y="45.6" font-size="12" fill="#131722" text-anchor="middle" font-weight="normal">/</text>
<text x="69" y="45.6" font-size="12" fill="#131722" text-anchor="start" font-weight="normal" textLength="51.6" lengthAdjust="spacingAndGlyphs">TetherUS,</text>
<text x="125.3" y="45.6" font-size="12" fill="#131722" text-anchor="start" font-weight="normal" textLength="16.5" lengthAdjust="spacingAndGlyphs">1D,</text>
<text x="146.8" y="45.6" font-size="12" fill="#131722" text-anchor="start" font-weight="normal" textLength="45.8" lengthAdjust="spacingAndGlyphs">BINANCE</text>
<text x="203.95" y="45.6" font-size="12" fill="#131722" text-anchor="middle" font-weight="normal">O</text>
<text x="208.8" y="45.6" font-size="12" fill="#26a69a" text-anchor="start" font-weight="normal" textLength="46.8" lengthAdjust="spacingAndGlyphs">18790.61</text>
<text x="267.8" y="45.6" font-size="12" fill="#131722" text-anchor="middle" font-weight="normal">H</text>
<text x="272.4" y="45.6" font-size="12" fill="#26a69a" text-anchor="start" font-weight="normal" textLength="47.4" lengthAdjust="spacingAndGlyphs">18968.58</text>
<text x="330.6" y="45.6" font-size="12" fill="#131722" text-anchor="middle" font-weight="normal">L</text>
<text x="333.9" y="45.6" font-size="12" fill="#26a69a" text-anchor="start" font-weight="normal" textLength="48" lengthAdjust="spacingAndGlyphs">18510.77</text>
<text x="392.3" y="45.6" font-size="12" fill="#131722" text-anchor="middle" font-weight="normal">C</text>
<text x="396.6" y="45.6" font-size="12" fill="#26a69a" text-anchor="start" font-weight="normal" textLength="48.2" lengthAdjust="spacingAndGlyphs">18951.90</text>
<text x="452.4" y="45.6" font-size="12" fill="#26a69a" text-anchor="start" font-weight="normal" textLength="41.1" lengthAdjust="spacingAndGlyphs">+161.29</text>
<text x="498.1" y="45.6" font-size="12" fill="#26a69a" text-anchor="start" font-weight="normal" textLength="45.4" lengthAdjust="spacingAndGlyphs">(+0.86%)</text>
<text x="17.7" y="62.5" font-size="12" fill="#131722" text-anchor="start" font-weight="normal" textLength="16.5" lengthAdjust="spacingAndGlyphs">MA</text>
<text x="37.6" y="62.5" font-size="12" fill="#131722" text-anchor="start" font-weight="normal" textLength="19.8" lengthAdjust="spacingAndGlyphs">(50,</text>
<text x="62" y="62.5" font-size="12" fill="#131722" text-anchor="start" font-weight="normal" textLength="31" lengthAdjust="spacingAndGlyphs">close,</text>
<text x="97.6" y="62.5" font-size="12" fill="#131722" text-anchor="start" font-weight="normal" textLength="10.1" lengthAdjust="spacingAndGlyphs">0)</text>
<text x="116.2" y="62.5" font-size="12" fill="#f44336" text-anchor="start" font-weight="normal" textLength="47.1" lengthAdjust="spacingAndGlyphs">22091.31</text>
<text x="18.1" y="79.5" font-size="12" fill="#131722" text-anchor="start" font-weight="normal" textLength="21.9" lengthAdjust="spacingAndGlyphs">EMA</text>
<text x="44.2" y="79.5" font-size="12" fill="#131722" text-anchor="start" font-weight="normal" textLength="20.6" lengthAdjust="spacingAndGlyphs">(20,</text>
<text x="68.6" y="79.5" font-size="12" fill="#131722" text-anchor="start" font-weight="normal" textLength="30.9" lengthAdjust="spacingAndGlyphs">close,</text>
<text x="103.3" y="79.5" font-size="12" fill="#131722" text-anchor="start" font-weight="normal" textLength="11.1" lengthAdjust="spacingAndGlyphs">0)</text>
<text x="122" y="79.5" font-size="12" fill="#0d2f8f" text-anchor="start" font-weight="normal" textLength="48.3" lengthAdjust="spacingAndGlyphs">20427.14</text>
<text x="18.2" y="597.7" font-size="12" fill="#131722" text-anchor="start" font-weight="normal" textLength="15" lengthAdjust="spacingAndGlyphs">RSI</text>
<text x="38.3" y="597.7" font-size="12" fill="#131722" text-anchor="start" font-weight="normal" textLength="20.1" lengthAdjust="spacingAndGlyphs">(14,</text>
<text x="62.6" y="597.7" font-size="12" fill="#131722" text-anchor="start" font-weight="normal" textLength="31.5" lengthAdjust="spacingAndGlyphs">close)</text>
<text x="101.6" y="597.7" font-size="12" fill="#7e57c2" text-anchor="start" font-weight="normal" textLength="30.1" lengthAdjust="spacingAndGlyphs">31.96</text>
<rect x="1252" y="28" width="68" height="550" fill="#ffffff"/>
<text x="1261.4" y="45" font-size="12" fill="#131722" text-anchor="start" font-weight="normal" textLength="27.5" lengthAdjust="spacingAndGlyphs">USDT</text>
<text x="1261" y="60.1" font-size="12" fill="#131722" text-anchor="start" font-weight="normal" textLength="48" lengthAdjust="spacingAndGlyphs">42000.00</text>
<text x="1261" y="99.9" font-size="12" fill="#131722" text-anchor="start" font-weight="normal" textLength="48" lengthAdjust="spacingAndGlyphs">40000.00</text>
<text x="1261" y="140.8" font-size="12" fill="#131722" text-anchor="start" font-weight="normal" textLength="48" lengthAdjust="spacingAndGlyphs">38000.00</text>
<text x="1261" y="181" font-size="12" fill="#131722" text-anchor="start" font-weight="normal" textLength="48" lengthAdjust="spacingAndGlyphs">36000.00</text>
<text x="1261" y="221.7" font-size="12" fill="#131722" text-anchor="start" font-weight="normal" textLength="48" lengthAdjust="spacingAndGlyphs">34000.00</text>
<text x="1261" y="262.2" font-size="12" fill="#131722" text-anchor="start" font-weight="normal" textLength="48" lengthAdjust="spacingAndGlyphs">32000.00</text>
<text x="1261" y="302.85" font-size="12" fill="#131722" text-anchor="start" font-weight="normal" textLength="48" lengthAdjust="spacingAndGlyphs">30000.00</text>
<text x="1261" y="343.8" font-size="12" fill="#131722" text-anchor="start" font-weight="normal" textLength="48" lengthAdjust="spacingAndGlyphs">28000.00</text>
<text x="1261" y="384" font-size="12" fill="#131722" text-anchor="start" font-weight="normal" textLength="48" lengthAdjust="spacingAndGlyphs">26000.00</text>
<text x="1261" y="424.9" font-size="12" fill="#131722" text-anchor="start" font-weight="normal" textLength="48" lengthAdjust="spacingAndGlyphs">24000.00</text>
<defs><linearGradient id="fd" x1="0" y1="0" x2="0" y2="1"><stop offset="0" stop-color="#fff" stop-opacity="0.75"/><stop offset="0.5" stop-color="#fff" stop-opacity="0.3"/><stop offset="1" stop-color="#fff" stop-opacity="0"/></linearGradient></defs>
<rect x="1255" y="50" width="60" height="9" fill="url(#fd)"/>
<text x="1261" y="594.9" font-size="12" fill="#131722" text-anchor="start" font-weight="normal" textLength="29.5" lengthAdjust="spacingAndGlyphs">70.00</text>
<text x="1261" y="632.9" font-size="12" fill="#131722" text-anchor="start" font-weight="normal" textLength="29.5" lengthAdjust="spacingAndGlyphs">60.00</text>
<text x="1261" y="671.9" font-size="12" fill="#131722" text-anchor="start" font-weight="normal" textLength="29.5" lengthAdjust="spacingAndGlyphs">50.00</text>
<text x="1261" y="710.9" font-size="12" fill="#131722" text-anchor="start" font-weight="normal" textLength="29.5" lengthAdjust="spacingAndGlyphs">40.00</text>
<text x="1261" y="749.9" font-size="12" fill="#131722" text-anchor="start" font-weight="normal" textLength="29.5" lengthAdjust="spacingAndGlyphs">30.00</text>
<text x="1261" y="787.9" font-size="12" fill="#131722" text-anchor="start" font-weight="normal" textLength="29.5" lengthAdjust="spacingAndGlyphs">20.00</text>
<path d="M1225,446.2 H1250 Q1250,446.2 1250,446.2 V462.8 Q1250,462.8 1250,462.8 H1225 Q1223,462.8 1223,460.8 V448.2 Q1223,446.2 1225,446.2 Z" fill="#f44336"/>
<text x="1236.5" y="458.6" font-size="12" fill="#ffffff" text-anchor="middle" font-weight="normal" textLength="17" lengthAdjust="spacingAndGlyphs" stroke="#ffffff" stroke-width="0.45">MA</text>
<path d="M1218,480.2 H1250 Q1250,480.2 1250,480.2 V496.6 Q1250,496.6 1250,496.6 H1218 Q1216,496.6 1216,494.6 V482.2 Q1216,480.2 1218,480.2 Z" fill="#0d2f8f"/>
<text x="1233" y="492.4" font-size="12" fill="#ffffff" text-anchor="middle" font-weight="normal" textLength="23" lengthAdjust="spacingAndGlyphs" stroke="#ffffff" stroke-width="0.45">EMA</text>
<path d="M1192,514 H1250 Q1250,514 1250,514 V531 Q1250,531 1250,531 H1192 Q1190,531 1190,529 V516 Q1190,514 1192,514 Z" fill="#26a69a"/>
<text x="1219.6" y="526.9" font-size="12" fill="#ffffff" text-anchor="middle" font-weight="normal" textLength="48.7" lengthAdjust="spacingAndGlyphs" stroke="#ffffff" stroke-width="0.45">BTCUSDT</text>
<path d="M1224,729 H1250 Q1250,729 1250,729 V745.9 Q1250,745.9 1250,745.9 H1224 Q1222,745.9 1222,743.9 V731 Q1222,729 1224,729 Z" fill="#7e57c2"/>
<text x="1236" y="741.8" font-size="12" fill="#ffffff" text-anchor="middle" font-weight="normal" textLength="16" lengthAdjust="spacingAndGlyphs" stroke="#ffffff" stroke-width="0.45">RSI</text>
<path d="M1251,446.2 H1315.2 Q1316,446.2 1316,447 V461.8 Q1316,462.6 1315.2,462.6 H1251 Q1251,462.6 1251,462.6 V446.2 Q1251,446.2 1251,446.2 Z" fill="#f44336"/>
<text x="1261" y="458.8" font-size="12" fill="#ffffff" text-anchor="start" font-weight="normal" textLength="48" lengthAdjust="spacingAndGlyphs" stroke="#ffffff" stroke-width="0.45">22091.31</text>
<path d="M1251,462.6 H1315.2 Q1316,462.6 1316,463.4 V478.9 Q1316,479.7 1315.2,479.7 H1251 Q1251,479.7 1251,479.7 V462.6 Q1251,462.6 1251,462.6 Z" fill="#0000ff"/>
<text x="1261" y="475.55" font-size="12" fill="#ffffff" text-anchor="start" font-weight="normal" textLength="48" lengthAdjust="spacingAndGlyphs" stroke="#ffffff" stroke-width="0.45">20576.00</text>
<path d="M1251,479.7 H1315.2 Q1316,479.7 1316,480.5 V496.1 Q1316,496.9 1315.2,496.9 H1251 Q1251,496.9 1251,496.9 V479.7 Q1251,479.7 1251,479.7 Z" fill="#0d2f8f"/>
<text x="1261" y="492.7" font-size="12" fill="#ffffff" text-anchor="start" font-weight="normal" textLength="48" lengthAdjust="spacingAndGlyphs" stroke="#ffffff" stroke-width="0.45">20427.14</text>
<path d="M1251,496.9 H1315.2 Q1316,496.9 1316,497.7 V513.2 Q1316,514 1315.2,514 H1251 Q1251,514 1251,514 V496.9 Q1251,496.9 1251,496.9 Z" fill="#0000ff"/>
<text x="1261" y="509.85" font-size="12" fill="#ffffff" text-anchor="start" font-weight="normal" textLength="48" lengthAdjust="spacingAndGlyphs" stroke="#ffffff" stroke-width="0.45">19520.00</text>
<path d="M1251,544.6 H1315.2 Q1316,544.6 1316,545.4 V561 Q1316,561.8 1315.2,561.8 H1251 Q1251,561.8 1251,561.8 V544.6 Q1251,544.6 1251,544.6 Z" fill="#0000ff"/>
<text x="1261" y="557.6" font-size="12" fill="#ffffff" text-anchor="start" font-weight="normal" textLength="48" lengthAdjust="spacingAndGlyphs" stroke="#ffffff" stroke-width="0.45">18910.00</text>
<path d="M1251,561.8 H1315.2 Q1316,561.8 1316,562.6 V577 Q1316,577.8 1315.2,577.8 H1251 Q1251,577.8 1251,577.8 V561.8 Q1251,561.8 1251,561.8 Z" fill="#0000ff"/>
<text x="1261" y="574.2" font-size="12" fill="#ffffff" text-anchor="start" font-weight="normal" textLength="48" lengthAdjust="spacingAndGlyphs" stroke="#ffffff" stroke-width="0.45">18626.00</text>
<path d="M1251,514 H1315.2 Q1316,514 1316,514.8 V543.8 Q1316,544.6 1315.2,544.6 H1251 Q1251,544.6 1251,544.6 V514 Q1251,514 1251,514 Z" fill="#26a69a"/>
<text x="1261" y="527" font-size="12" fill="#ffffff" text-anchor="start" font-weight="normal" textLength="48" lengthAdjust="spacingAndGlyphs" stroke="#ffffff" stroke-width="0.45">18951.90</text>
<text x="1261" y="540.6" font-size="12" fill="#ffffff" text-anchor="start" font-weight="normal" textLength="45" lengthAdjust="spacingAndGlyphs" stroke="#ffffff" stroke-width="0.45" fill-opacity="0.7" stroke-opacity="0.7">07:20:35</text>
<path d="M1251,729 H1295 Q1297,729 1297,731 V743.9 Q1297,745.9 1295,745.9 H1251 Q1251,745.9 1251,745.9 V729 Q1251,729 1251,729 Z" fill="#7e57c2"/>
<text x="1261" y="741.8" font-size="12" fill="#ffffff" text-anchor="start" font-weight="normal" textLength="29.2" lengthAdjust="spacingAndGlyphs" stroke="#ffffff" stroke-width="0.45">31.96</text>
<text x="67.1" y="811.9" font-size="12" fill="#131722" text-anchor="middle" font-weight="normal" textLength="21.2" lengthAdjust="spacingAndGlyphs" stroke="#131722" stroke-width="0.15">May</text>
<text x="192" y="811.9" font-size="12" fill="#131722" text-anchor="middle" font-weight="normal" textLength="12.8" lengthAdjust="spacingAndGlyphs">16</text>
<text x="327.1" y="811.9" font-size="12" fill="#131722" text-anchor="middle" font-weight="normal" textLength="19.5" lengthAdjust="spacingAndGlyphs" stroke="#131722" stroke-width="0.15">Jun</text>
<text x="426.9" y="811.9" font-size="12" fill="#131722" text-anchor="middle" font-weight="normal" textLength="12.8" lengthAdjust="spacingAndGlyphs">13</text>
<text x="578.2" y="811.9" font-size="12" fill="#131722" text-anchor="middle" font-weight="normal" textLength="17" lengthAdjust="spacingAndGlyphs" stroke="#131722" stroke-width="0.15">Jul</text>
<text x="661.8" y="811.9" font-size="12" fill="#131722" text-anchor="middle" font-weight="normal" textLength="12.8" lengthAdjust="spacingAndGlyphs">11</text>
<text x="745.9" y="811.9" font-size="12" fill="#131722" text-anchor="middle" font-weight="normal" textLength="12.8" lengthAdjust="spacingAndGlyphs">21</text>
<text x="838.9" y="811.9" font-size="12" fill="#131722" text-anchor="middle" font-weight="normal" textLength="20.5" lengthAdjust="spacingAndGlyphs" stroke="#131722" stroke-width="0.15">Aug</text>
<text x="956" y="811.9" font-size="12" fill="#131722" text-anchor="middle" font-weight="normal" textLength="12.8" lengthAdjust="spacingAndGlyphs">15</text>
<text x="1098.8" y="811.9" font-size="12" fill="#131722" text-anchor="middle" font-weight="normal" textLength="20.5" lengthAdjust="spacingAndGlyphs" stroke="#131722" stroke-width="0.15">Sep</text>
<text x="1191" y="811.9" font-size="12" fill="#131722" text-anchor="middle" font-weight="normal" textLength="12.8" lengthAdjust="spacingAndGlyphs">12</text>
<g fill="#131722">
<path d="M10,834.1 H17.8 V843.9 H14.1 V837.8 H10 Z"/>
<circle cx="21" cy="836.1" r="1.85"/>
<path d="M25.2,834.2 H29.3 L25.2,843.9 H21 Z"/>
</g>
<text x="33.4" y="843.9" font-size="13" fill="#2a2e39" text-anchor="start" font-weight="normal" textLength="69.8" lengthAdjust="spacingAndGlyphs">TradingView</text>
</svg>
</body></html>
